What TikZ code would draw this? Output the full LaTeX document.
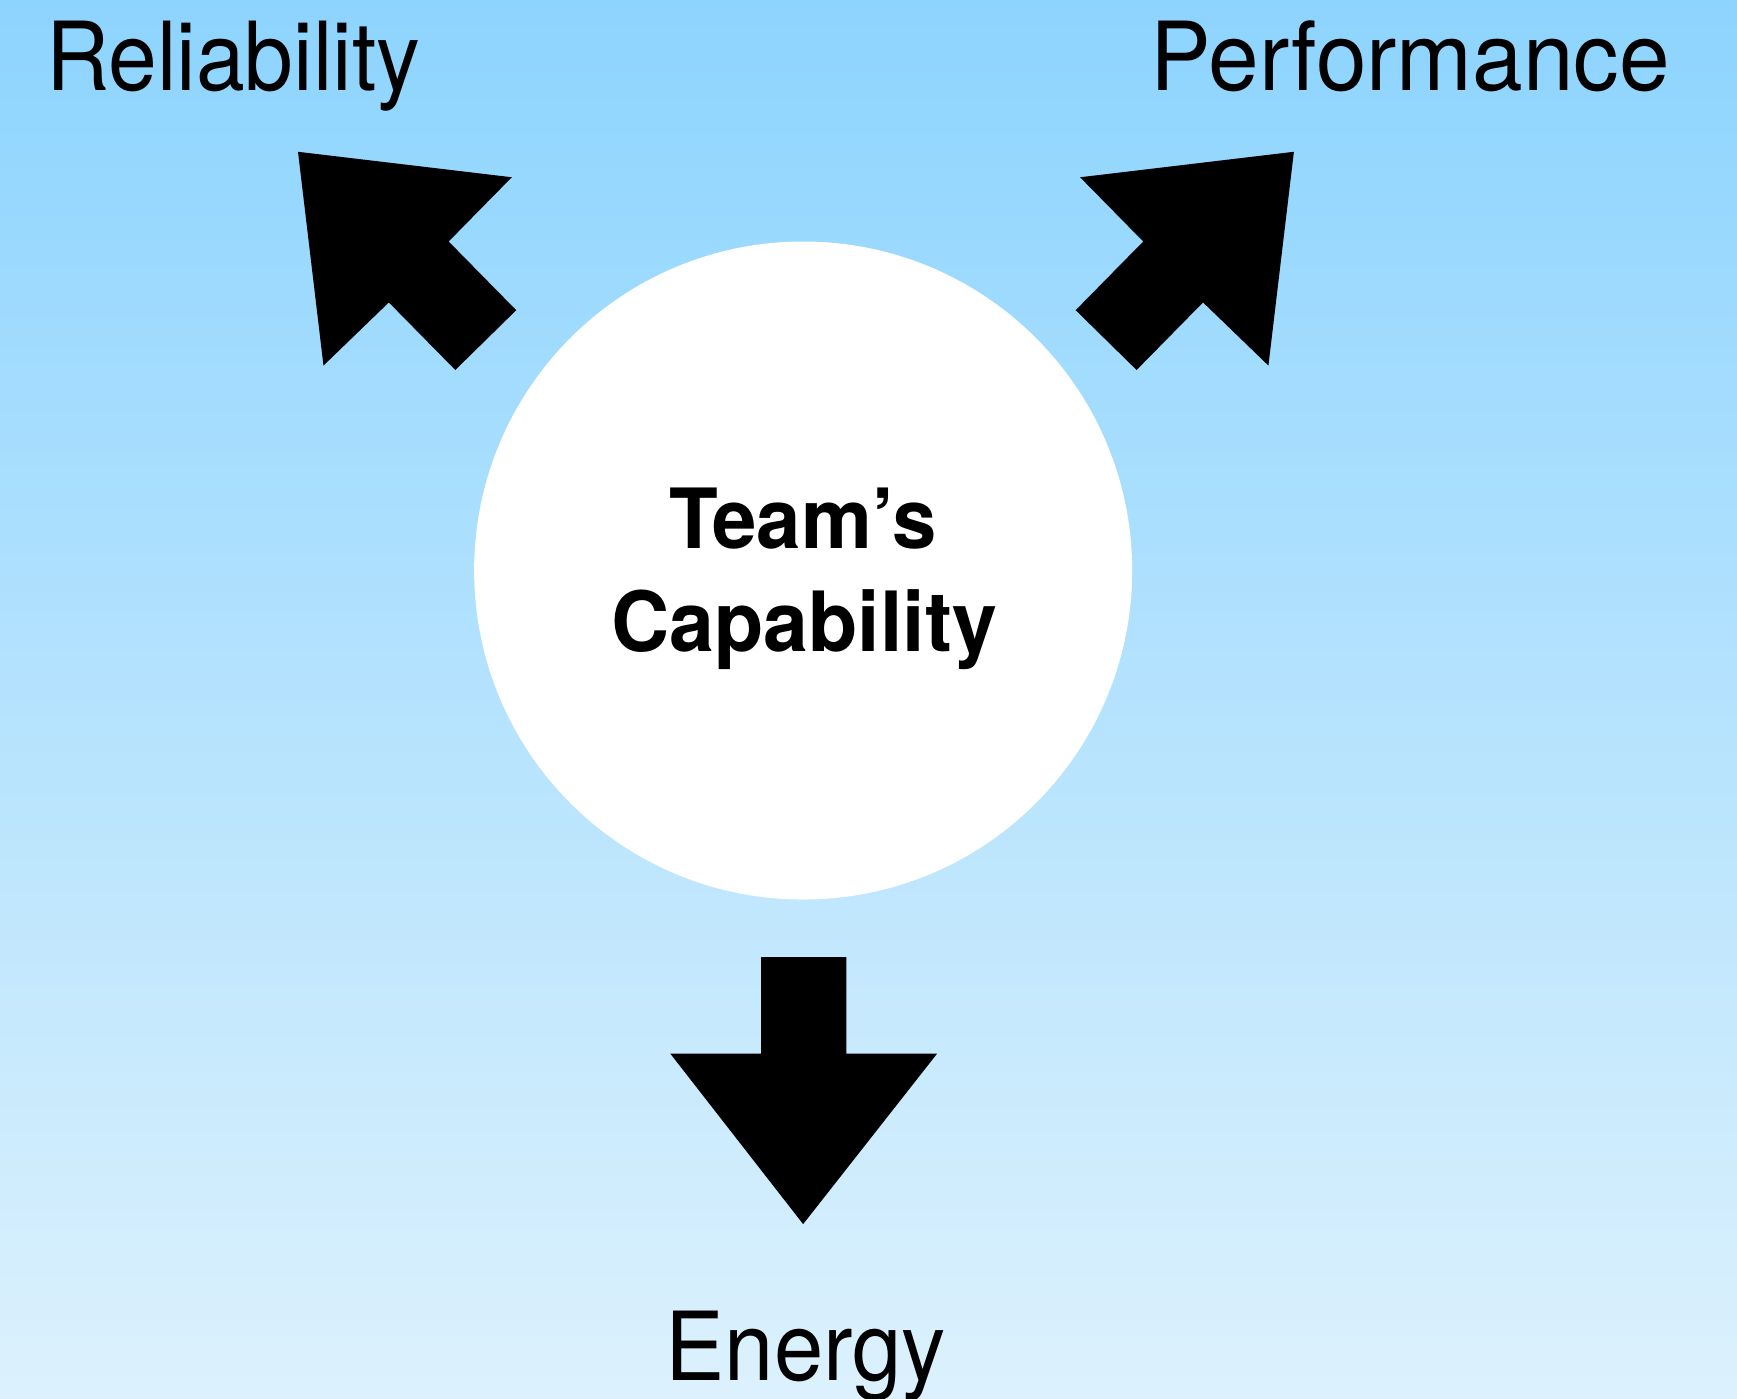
\documentclass[tikz,border=0pt]{standalone}
\usepackage{fontspec}
\usepackage{graphicx}
\setmainfont{TeX Gyre Heros}
\definecolor{skytop}{RGB}{141,212,254}
\definecolor{skybot}{RGB}{220,241,253}
\begin{document}
\begin{tikzpicture}[x=1pt,y=-1pt,
  bigarrow/.style={fill=black,draw=none},
  label/.style={inner sep=0pt,font=\fontsize{86}{100}\selectfont},
  center/.style={inner sep=0pt,align=center,font=\bfseries\fontsize{75}{93}\selectfont}]
\useasboundingbox (0,0) rectangle (1568,1262);
\shade[top color=skytop,bottom color=skybot] (0,0) rectangle (1568,1262);
% central circle
\node[circle,fill=white,minimum size=594pt,inner sep=0pt] (core) at (725,515) {};
\node[center,anchor=base] (t1) at (725,495) {\scalebox{0.96}[1]{Team’s}};
\node[center,anchor=base] (t2) at (726,588) {\scalebox{0.97}[1]{Capability}};
% arrows
\fill[bigarrow] (269,137) -- (462,160) -- (405,218) -- (466,280) -- (411,334) -- (351,273) -- (292,330) -- cycle;
\fill[bigarrow] (1168,137) -- (975,160) -- (1032,218) -- (971,280) -- (1026,334) -- (1086,273) -- (1145,330) -- cycle;
\fill[bigarrow] (687,864) -- (764,864) -- (764,951) -- (846,951) -- (725,1105) -- (605,951) -- (687,951) -- cycle;
% labels
\node[label,anchor=base] (rel) at (210.5,82) {\scalebox{0.92}[1]{Reliability}};
\node[label,anchor=base] (perf) at (1273,82) {\scalebox{0.955}[1]{Performance}};
\node[label,anchor=base] (en) at (727.5,1246) {\scalebox{0.93}[1]{Energy}};
\end{tikzpicture}
\end{document}
